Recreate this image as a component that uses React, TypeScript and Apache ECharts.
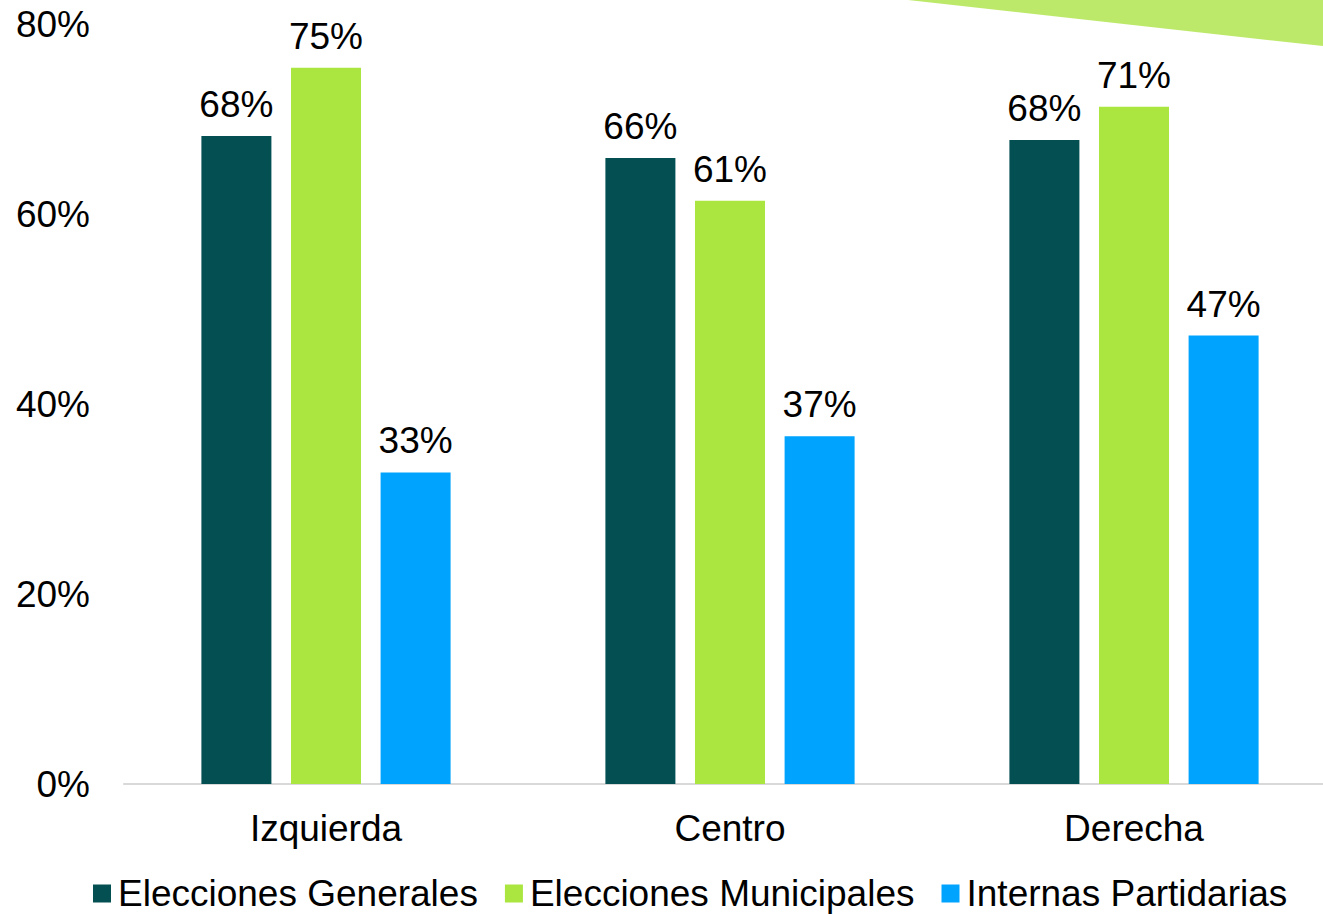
import React, { useEffect, useRef } from "react";
import * as echarts from "echarts";

const categories = ["Izquierda", "Centro", "Derecha"];
const seriesNames = ["Elecciones Generales", "Elecciones Municipales", "Internas Partidarias"];
const generales = [68.2, 65.9, 67.8];
const municipales = [75.4, 61.4, 71.3];
const internas = [32.8, 36.6, 47.2];
const colors = ["#034f52", "#abe53f", "#00a3fe"];
const yTicks = [0, 20, 40, 60, 80];

export default function App() {
  const ref = useRef<HTMLDivElement>(null);
  useEffect(() => {
    if (!ref.current) return;
    const chart = echarts.init(ref.current, null, { renderer: "svg" });
    const font = "'Liberation Sans', Arial, sans-serif";
    const fs = 37;
    const values = [generales, municipales, internas];
    chart.setOption({
      animation: false,
      textStyle: { fontFamily: font },
      grid: { left: 124, top: 24, bottom: 130, right: 0, containLabel: false },
      legend: {
        bottom: -3,
        left: 88,
        itemWidth: 18,
        itemHeight: 18,
        itemGap: 27,
        icon: "rect",
        textStyle: { fontSize: fs, color: "#000", fontFamily: font, padding: [0, 0, 0, 2] },
        data: seriesNames,
      },
      xAxis: {
        type: "category",
        data: categories,
        axisLine: { lineStyle: { color: "#d9d9d9", width: 2 } },
        axisTick: { show: false },
        axisLabel: { fontSize: fs, color: "#000", margin: 26, fontFamily: font },
      },
      yAxis: {
        type: "value",
        min: yTicks[0],
        max: yTicks[yTicks.length - 1],
        interval: 20,
        splitLine: { show: false },
        axisLine: { show: false },
        axisTick: { show: false },
        axisLabel: {
          fontSize: fs,
          color: "#000",
          margin: 34,
          fontFamily: font,
          formatter: (v: number) => v + "%",
        },
      },
      graphic: [
        {
          type: "polygon",
          shape: { points: [[908, 0], [1336, 0], [1336, 47.5]] },
          style: { fill: "#bde96a" },
          z: 10,
        },
      ],
      series: seriesNames.map((name, i) => ({
        name,
        type: "bar",
        data: values[i],
        barWidth: 70,
        barGap: "28%",
        itemStyle: { color: colors[i] },
        label: {
          show: true,
          position: "top",
          distance: 13,
          fontSize: fs,
          color: "#000",
          fontFamily: font,
          formatter: (p: any) => Math.round(p.value) + "%",
        },
      })),
    });
    return () => chart.dispose();
  }, []);
  return (
    <div
      style={{
        position: "fixed",
        left: 0,
        top: 0,
        width: 1323,
        height: 914,
        overflow: "hidden",
        background: "#fff",
      }}
    >
      <div ref={ref} style={{ width: 1336, height: 914 }} />
    </div>
  );
}
